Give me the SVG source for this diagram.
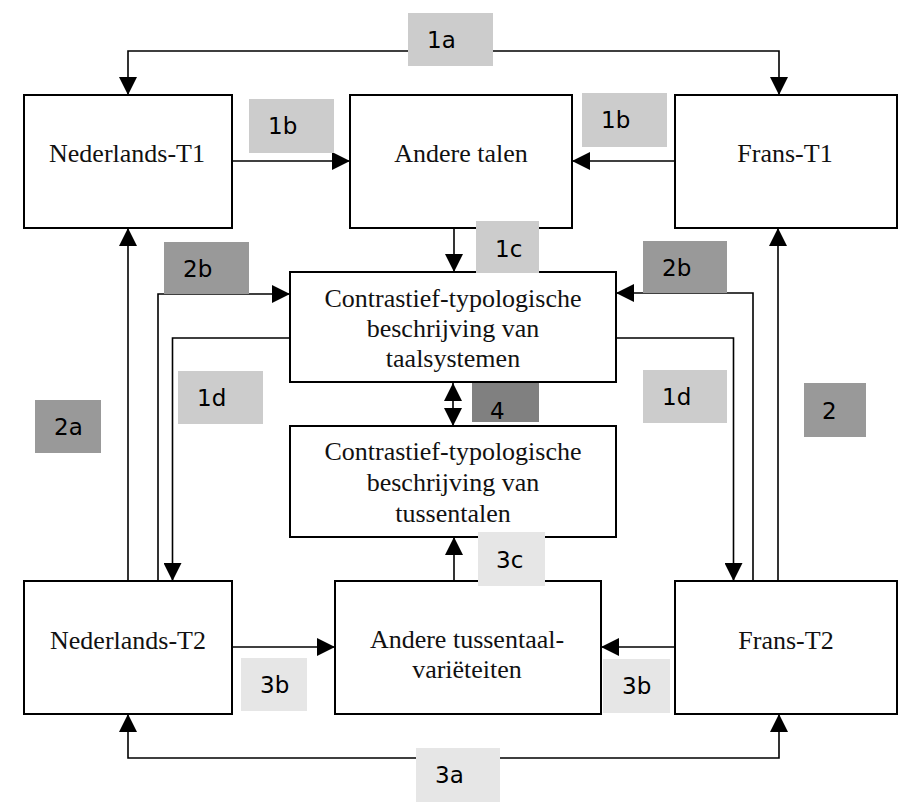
<svg xmlns="http://www.w3.org/2000/svg" width="907" height="809" viewBox="0 0 907 809">
  <defs>
    <marker id="arrow" markerUnits="userSpaceOnUse" markerWidth="18" markerHeight="18" refX="18" refY="9" orient="auto-start-reverse">
      <path d="M0,0 L18,9 L0,18 z" fill="#000"/>
    </marker>
    <style>
      .box { fill: #fff; stroke: #000; stroke-width: 2; }
      .txt { font-family: "Liberation Serif", "Times New Roman", serif; font-size: 26px; fill: #111; text-anchor: middle; }
      .edge { fill: none; stroke: #000; stroke-width: 1.6; marker-end: url(#arrow); }
      .both { marker-start: url(#arrow); }
      .lbl { font-family: "DejaVu Sans", Verdana, sans-serif; font-size: 23px; fill: #000; }
      .l1 { fill: #cccccc; }
      .l2 { fill: #999999; }
      .l3 { fill: #e6e6e6; }
      .l4 { fill: #808080; }
    </style>
  </defs>

  <rect width="907" height="809" fill="#fff"/>

  <!-- connectors -->
  <g id="connectors">
    <path class="edge both" d="M128,95 V51 H779 V95"/>
    <path class="edge" d="M232,161 H350"/>
    <path class="edge" d="M675,161 H572"/>
    <path class="edge" d="M454,228 V272"/>
    <path class="edge" d="M128,581 V228"/>
    <path class="edge" d="M778,581 V228"/>
    <path class="edge" d="M158,581 V294 H290"/>
    <path class="edge" d="M753,581 V293 H616"/>
    <path class="edge" d="M290,338 H172.5 V581"/>
    <path class="edge" d="M616,338 H733.5 V581"/>
    <path class="edge both" d="M453,383 V426"/>
    <path class="edge" d="M454,581 V537"/>
    <path class="edge" d="M232,647 H335"/>
    <path class="edge" d="M675,647 H601"/>
    <path class="edge both" d="M128,714 V758 H779 V714"/>
  </g>

  <!-- nodes -->
  <g id="nl-t1">
    <rect class="box" x="24" y="95" width="208" height="133"/>
    <text class="txt" x="127" y="162">Nederlands-T1</text>
  </g>
  <g id="andere-talen">
    <rect class="box" x="350" y="95" width="222" height="133"/>
    <text class="txt" x="461" y="162">Andere talen</text>
  </g>
  <g id="fr-t1">
    <rect class="box" x="675" y="95" width="222" height="133"/>
    <text class="txt" x="785" y="162">Frans-T1</text>
  </g>
  <g id="taalsystemen">
    <rect class="box" x="290" y="272" width="326" height="110"/>
    <text class="txt" x="453" y="307">Contrastief-typologische</text>
    <text class="txt" x="453" y="337">beschrijving van</text>
    <text class="txt" x="453" y="367">taalsystemen</text>
  </g>
  <g id="tussentalen">
    <rect class="box" x="290" y="426" width="326" height="111"/>
    <text class="txt" x="453" y="460">Contrastief-typologische</text>
    <text class="txt" x="453" y="491">beschrijving van</text>
    <text class="txt" x="453" y="522">tussentalen</text>
  </g>
  <g id="nl-t2">
    <rect class="box" x="24" y="581" width="208" height="133"/>
    <text class="txt" x="128" y="649">Nederlands-T2</text>
  </g>
  <g id="andere-tussentaal">
    <rect class="box" x="335" y="581" width="266" height="133"/>
    <text class="txt" x="467" y="648">Andere tussentaal-</text>
    <text class="txt" x="467" y="678">variëteiten</text>
  </g>
  <g id="fr-t2">
    <rect class="box" x="675" y="581" width="222" height="133"/>
    <text class="txt" x="786" y="649">Frans-T2</text>
  </g>

  <!-- labels -->
  <g id="labels">
    <rect class="l1" x="408" y="13" width="85" height="53"/><text class="lbl" x="427" y="48">1a</text>
    <rect class="l1" x="249" y="99" width="85" height="54"/><text class="lbl" x="268" y="134">1b</text>
    <rect class="l1" x="582" y="93" width="85" height="54"/><text class="lbl" x="601" y="128">1b</text>
    <rect class="l1" x="476" y="221" width="63" height="52"/><text class="lbl" x="495" y="257">1c</text>
    <rect class="l2" x="164" y="242" width="85" height="52"/><text class="lbl" x="183" y="277">2b</text>
    <rect class="l2" x="643" y="241" width="84" height="52"/><text class="lbl" x="662" y="276">2b</text>
    <rect class="l1" x="178" y="371" width="85" height="53"/><text class="lbl" x="197" y="406">1d</text>
    <rect class="l1" x="643" y="370" width="84" height="53"/><text class="lbl" x="662" y="405">1d</text>
    <rect class="l2" x="35" y="400" width="66" height="53"/><text class="lbl" x="54" y="435">2a</text>
    <rect class="l2" x="804" y="383" width="62" height="54"/><text class="lbl" x="822" y="419">2</text>
    <rect class="l4" x="472" y="383" width="67" height="39"/><text class="lbl" x="490" y="419">4</text>
    <rect class="l3" x="478" y="532" width="67" height="54"/><text class="lbl" x="496" y="568">3c</text>
    <rect class="l3" x="241" y="658" width="66" height="53"/><text class="lbl" x="260" y="693">3b</text>
    <rect class="l3" x="603" y="659" width="67" height="54"/><text class="lbl" x="622" y="694">3b</text>
    <rect class="l3" x="416" y="748" width="84" height="54"/><text class="lbl" x="435" y="783">3a</text>
  </g>
</svg>
